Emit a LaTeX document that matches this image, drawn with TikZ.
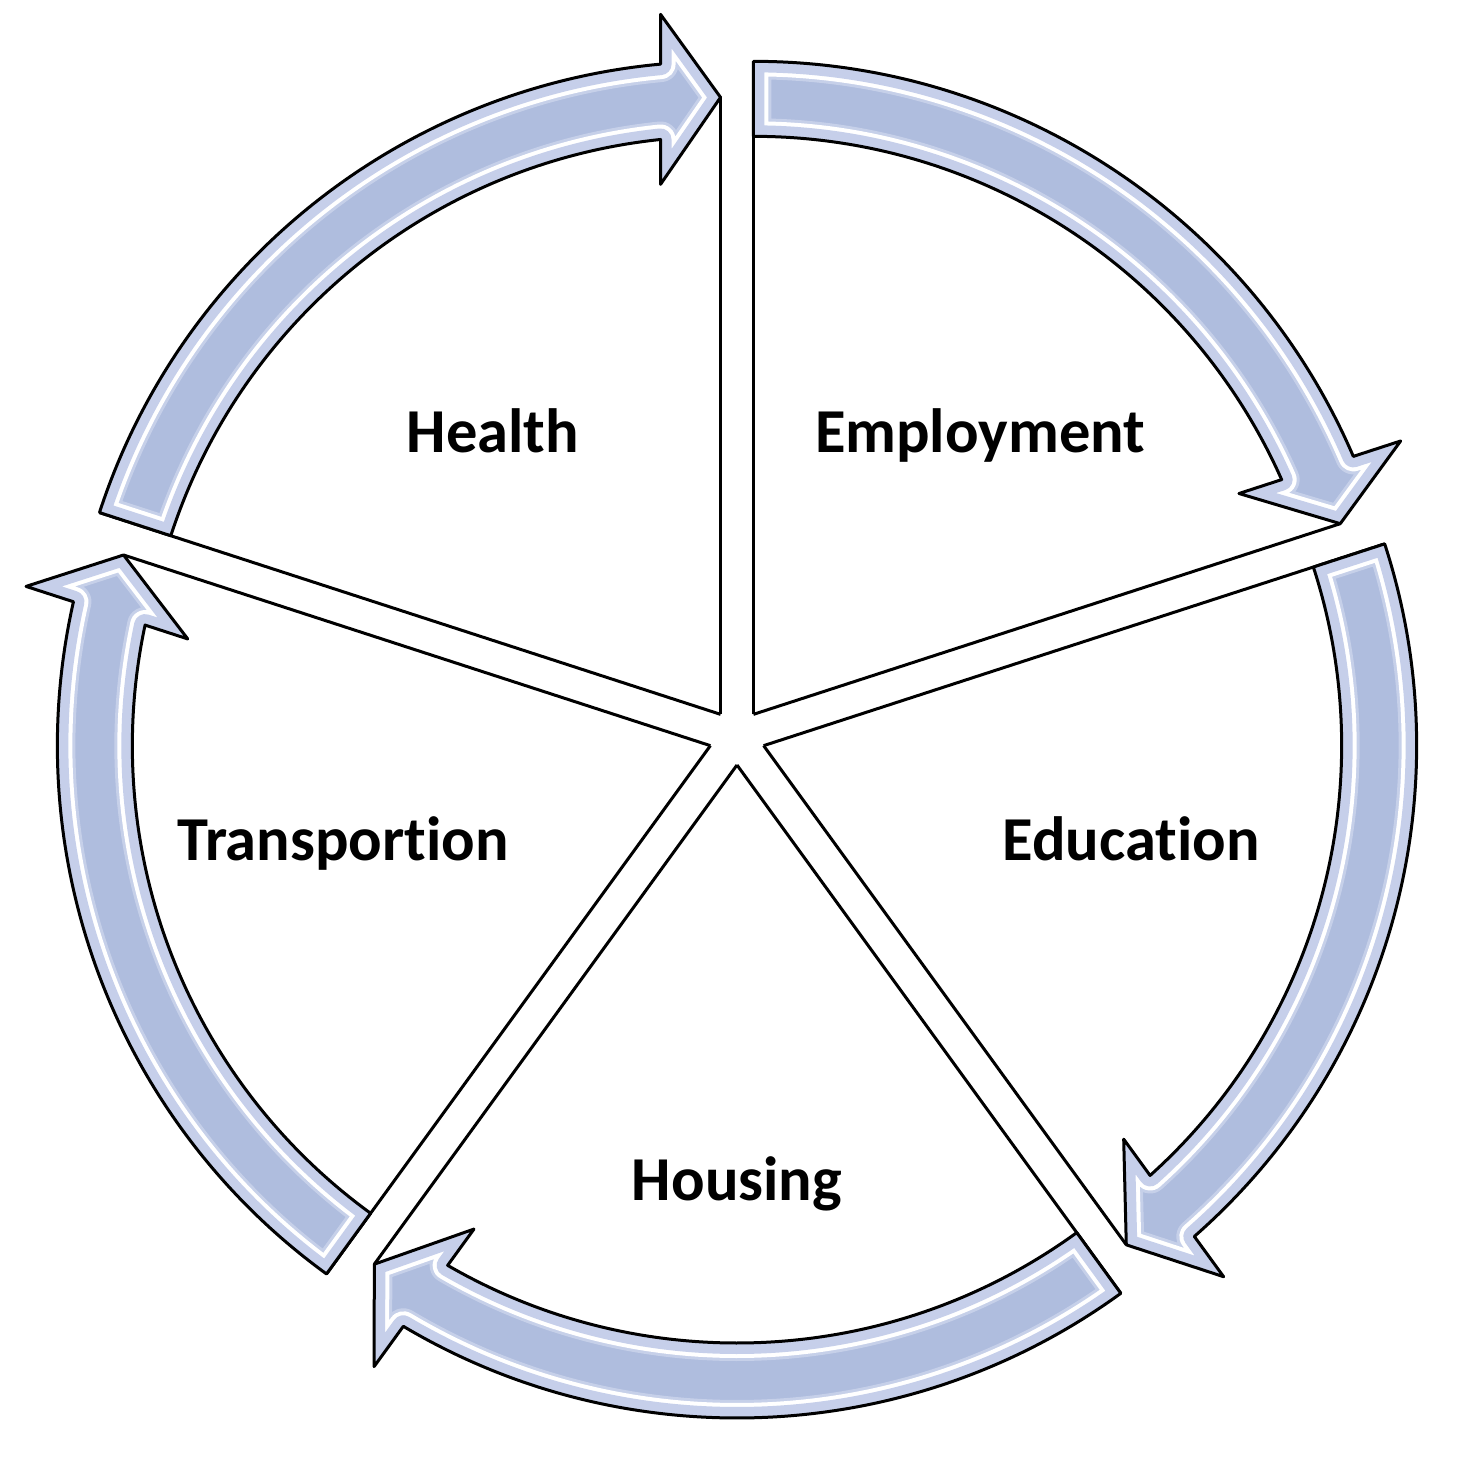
\documentclass[tikz,border=0pt]{standalone}
\usepackage{fontspec}
\setmainfont[Ligatures=NoCommon,RawFeature=-liga]{Carlito}
\definecolor{arrowfill}{RGB}{175,189,222}
\definecolor{arrowedge}{RGB}{198,207,234}
\definecolor{arrowglow}{RGB}{222,228,245}
\newcommand\cyclearrow[1]{\path[#1] (72:653) arc[start angle=72,end angle=5.27,radius=653] -- (700,60) -- (617,0) -- (530,60) -- (5.96:578) arc[start angle=5.96,end angle=72,radius=578] -- cycle;}
\begin{document}
\begin{tikzpicture}[x=1pt,y=1pt,line join=round,
  wedgeline/.style={draw=black,line width=3pt},
  catlabel/.style={font=\fontsize{62.5}{75}\selectfont\bfseries,anchor=base,inner sep=0pt,text=black}]
\useasboundingbox (-737,-736) rectangle (737,737);
\foreach \h/\n in {90/H,18/E,-54/D,-126/O,-198/T}{
  \pgfmathsetmacro\b{\h+36}
  \begin{scope}[shift={(\b:28)},rotate=\h]
    \coordinate (apex\n) at (0,0);
    \coordinate (tip\n) at (617,0);
    \coordinate (tail\n) at (72:653);
    \draw[wedgeline] (apex\n) -- (tip\n);
    \draw[wedgeline] (apex\n) -- (tail\n);
    \begin{scope}
      \cyclearrow{clip}
      \cyclearrow{fill=arrowfill}
      \cyclearrow{draw=arrowglow,line width=36pt,opacity=0.5}
      \cyclearrow{draw=white,line width=30pt}
      \cyclearrow{draw=arrowedge,line width=22pt}
    \end{scope}
    \cyclearrow{draw=black,line width=3pt}
  \end{scope}
}
\node[catlabel] (health) at (-244,285) {Health};
\node[catlabel] (employment) at (243,285) {Employment};
\node[catlabel] (education) at (394,-123) {Education};
\node[catlabel] (transport) at (-394,-123) {Transportion};
\node[catlabel] (housing) at (0,-463) {Housing};
\end{tikzpicture}
\end{document}
